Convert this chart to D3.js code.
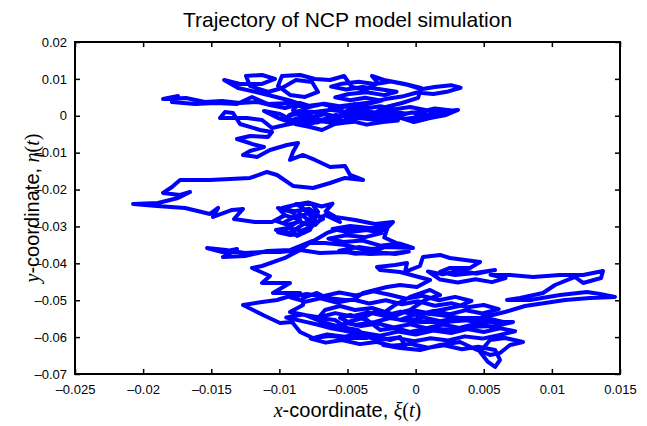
<!DOCTYPE html>
<html><head><meta charset="utf-8">
<script src="https://cdn.jsdelivr.net/npm/d3@7"></script>
<style>body{margin:0;background:#fff}</style>
</head><body>
<svg id="chart" width="647" height="426"></svg>
<script>
// Trajectory samples (xi = x-coordinate, eta = y-coordinate), in units of 1e-3,
// listed in path order as consecutive pieces.
const unit = 1e-3;

// piece 1: start at origin, upper band, left arm
const xi1 = [0.03,0.91,2.16,3.11,2.23,1.06,-0.12,-1.29,-2.39,-3.20,-2.17,-1.00,0.18,0.40,-0.78,-2.32,-3.20,-2.76,-3.71,-4.67,
-5.25,-6.28,-7.38,-8.48,-9.81,-10.10,-9.22,-8.12,-7.16,-7.60,-8.78,-9.81,-10.83,-12.15,-12.45,-11.27,-10.32,-11.27,-12.89,-14.06,
-13.03,-11.71,-10.54,-9.37,-8.48,-9.59,-10.69,-11.57,-12.89,-14.21,-15.46,-16.85,-18.54,-17.44,-17.88,-16.19,-14.65,-13.11,-12.01,-10.83,
-9.22,-8.12,-6.87,-5.55,-4.45,-3.49,-4.67,-5.84,-6.87,-8.04,-9.07,-9.95,-11.13,-10.10,-8.85,-7.75,-6.87,-5.92,-4.81,-5.40,-6.28];
const eta1 = [-0.05,1.57,1.30,1.57,0.22,-0.60,-1.68,-0.33,-1.41,0.49,2.39,3.47,4.83,7.54,8.62,9.70,10.79,8.89,6.99,7.81,
10.79,9.70,9.98,11.06,10.79,8.08,5.64,5.10,6.45,9.16,9.70,7.54,6.45,8.08,10.79,11.06,9.98,8.62,8.62,9.70,
7.54,6.45,5.37,4.28,3.20,2.11,2.93,3.74,3.47,4.01,3.74,4.83,4.55,5.37,3.74,3.20,3.47,3.20,5.10,3.20,
3.47,2.11,3.20,2.11,3.20,1.57,-0.60,0.22,-1.14,-0.05,-1.14,0.49,1.30,-0.60,-2.22,-3.04,-3.85,-2.22,-1.68,1.03,2.11];

// piece 2: dense tangle near the origin
const xi2 = [-5.0,-3.8,-2.6,-1.5,-0.4,0.8,1.9,0.9,-0.3,-1.2,-2.4,-3.5,-4.6,-5.7,-6.6,-7.5,-8.4,-9.3,-8.6,-7.4,
-6.3,-5.2,-4.1,-3.0,-1.9,-0.8,0.4,1.4,2.5,1.6,0.5,-0.7,-1.9,-3.0,-4.2,-5.3,-6.4,-7.2,-8.3,-9.2,
-8.0,-6.9,-5.8,-4.5,-3.6,-2.4,-1.3,-2.0,-3.2,-4.3,-5.5,-4.8,-3.6,-2.5,-3.7,-4.8,-5.9,-4.9,-3.6,-2.3,
-1.4,-2.6,-3.9,-5.1,-6.2,-5.4,-4.2,-3.0,-1.8,-0.6,0.4,1.4,2.6,3.3,2.4,1.3,0.1,-1.0,-2.1,-3.2,
-4.4,-5.6,-6.7,-7.8,-8.5,-9.0,-8.3];
const eta2 = [2.8,1.9,2.6,1.8,2.4,1.5,0.9,0.3,0.9,0.1,0.6,-0.3,0.4,-0.4,0.5,-0.2,0.7,0.1,1.3,1.0,
1.6,1.1,1.5,0.9,1.3,0.6,1.1,2.0,1.5,0.6,-0.2,-0.8,-0.3,-1.1,-0.6,-1.4,-0.8,-1.8,-1.0,-1.6,
-2.3,-1.5,-2.1,-1.6,-2.4,-1.7,-1.3,-0.5,0.2,0.9,0.2,2.0,3.1,4.1,4.9,4.2,5.0,5.9,6.4,5.6,
6.5,7.2,7.8,7.1,7.9,8.7,9.2,8.6,9.3,8.4,7.2,7.8,8.3,7.6,6.6,5.9,6.3,5.2,4.6,3.7,
3.1,2.6,3.3,2.7,3.5,1.5,0.0];

// piece 3: descent on the left, far-left spike, cluster near -0.03
const xi3 = [-8.48,-9.59,-10.54,-11.27,-12.37,-14.36,-13.99,-13.40,-12.89,-11.42,-10.54,-10.83,-12.15,-13.11,-12.01,-11.13,-12.15,-12.67,-11.64,
-10.69,-9.44,-8.63,-9.00,-9.22,-8.26,-7.38,-6.28,-5.18,-4.81,-3.86,-5.18,-6.28,-7.53,-9.00,-10.17,-10.91,-12.15,-13.62,-15.09,
-17.29,-17.88,-18.54,-17.29,-16.56,-17.44,-18.91,-20.74,-18.98,-16.92,-15.09,-14.50,-14.87,-13.47,-12.67,-13.33,-11.79,-10.54,-9.59,-10.10,
-9.07,-8.48,-9.37,-10.25,-9.22,-8.34,-7.60,-8.26,-8.78,-7.60,-7.16,-7.75,-8.70,-9.59,-8.48,-7.38,-6.65,-5.55,-6.28];
const eta3 = [-1.68,-2.49,-3.31,-1.14,-0.60,-0.60,1.03,0.76,-2.22,-3.85,-4.39,-5.75,-5.48,-6.29,-7.64,-8.46,-9.54,-10.63,-11.17,
-9.27,-7.92,-7.37,-9.81,-11.98,-10.63,-11.98,-13.88,-13.61,-16.05,-17.40,-16.86,-18.22,-19.57,-19.03,-16.05,-15.23,-16.86,-17.13,-17.40,
-17.40,-19.30,-20.93,-21.47,-20.66,-22.28,-23.64,-23.91,-24.45,-24.99,-26.62,-24.99,-27.43,-25.54,-25.26,-27.98,-28.79,-28.79,-26.89,-24.99,
-26.08,-28.25,-30.42,-30.96,-31.77,-29.60,-27.70,-24.99,-23.91,-23.91,-26.08,-30.96,-32.58,-28.79,-26.62,-29.60,-26.89,-28.79,-26.62];

// piece 4: more of the -0.03 cluster
const xi4 = [-7.0,-7.9,-8.7,-9.6,-10.3,-9.4,-8.5,-7.6,-8.4,-9.3,-10.1,-9.2,-8.3,-7.4,-6.8,-7.8,-8.9,-9.8,-8.9,-7.9,-6.9,-6.1,-6.6,-5.9];
const eta4 = [-27.5,-26.3,-27.9,-27.0,-28.4,-29.6,-28.7,-30.0,-31.2,-30.4,-31.6,-32.3,-31.9,-29.1,-28.0,-25.2,-25.9,-25.0,-24.2,-23.5,-24.6,-23.8,-25.9,-27.4];

// piece 5: right spike near -0.03 and the -0.035 band
const xi5 = [-4.45,-2.98,-1.66,-2.25,-3.93,-5.40,-6.50,-7.75,-6.65,-5.18,-3.71,-2.25,-0.19];
const eta5 = [-28.25,-29.33,-28.79,-30.96,-30.96,-30.42,-31.77,-34.48,-34.48,-35.02,-36.38,-35.57,-35.84];

// piece 6: tangle near -0.035
const xi6 = [-1.2,-2.6,-3.9,-5.3,-6.4,-5.1,-3.7,-2.5,-3.6,-4.9,-6.1,-4.8,-3.4,-2.0,-2.3,-1.4,-2.8,-4.2,-5.6,-4.4,-2.9,-1.5,-0.5];
const eta6 = [-34.6,-35.2,-33.8,-34.2,-33.3,-32.4,-32.9,-31.8,-31.0,-31.6,-30.7,-29.9,-30.4,-29.7,-33.0,-34.5,-36.3,-35.6,-36.6,-37.4,-37.0,-37.5,-36.8];

// piece 7: band near -0.037, zigzag down to -0.06, back up to -0.04
const xi7 = [-1.51,-3.35,-5.18,-7.02,-8.48,-9.95,-11.27,-12.52,
-13.92,-15.31,-14.21,-13.11,-14.14,-12.52,-10.91,-9.22,-7.60,-8.48,-9.59,-11.27,-12.01,-10.69,-11.27,-9.22,-10.47,-8.48,-10.17,-11.27,
-12.67,-11.93,-11.05,-9.95,-9.07,-8.48,-7.53,-6.28,-4.81,-3.57,-4.23,-5.55,-6.87,-8.12,-9.22,-8.26,-8.26,-7.24,-6.50,-5.18,
-4.59,-3.86,-2.10,-1.14,0.10,1.06,-0.04,-1.14,-2.61,-2.83,-1.51,-0.63,-0.78,0.32,0.54,1.79,2.52,3.63,4.73,3.99,
2.52,1.79,2.89,4.36,5.83];
const eta7 = [-37.19,-37.46,-36.92,-37.19,-36.38,-36.92,-36.92,-37.19,
-36.38,-35.84,-36.92,-36.11,-38.28,-38.01,-36.65,-36.38,-33.94,-36.38,-38.55,-40.72,-41.26,-43.43,-45.32,-45.32,-48.04,-48.04,-49.93,-50.48,
-51.29,-52.64,-54.27,-56.17,-55.90,-58.61,-60.23,-59.69,-60.23,-60.23,-58.06,-57.25,-55.90,-54.00,-53.19,-51.29,-49.39,-48.04,-49.39,-49.93,
-49.93,-48.04,-46.41,-45.87,-46.41,-44.51,-43.43,-42.34,-41.80,-40.99,-40.45,-39.90,-42.34,-40.72,-38.28,-37.73,-38.55,-39.09,-39.63,-41.26,
-41.26,-42.34,-43.16,-42.61,-41.80];

// piece 8: small tangle near (0.003, -0.043)
const xi8 = [4.5,3.2,2.0,0.9,1.8,3.1,4.4,5.6,6.6,5.5];
const eta8 = [-42.8,-41.9,-43.0,-42.2,-44.4,-45.2,-44.3,-45.1,-44.0,-43.1];

// piece 9: excursions to the right edge, lower cluster, bottom tail
const xi9 = [6.93,8.62,10.60,12.29,13.75,13.61,12.29,11.70,10.23,9.35,7.66,6.71,8.40,10.60,12.58,
13.53,14.63,12.80,10.97,9.50,8.03,6.56,4.73,3.26,1.79,0.32,-1.14,0.32,2.16,3.99,5.46,7.15,5.83,3.77,2.52,
1.06,-0.41,-1.51,-2.61,-3.57,-4.81,-5.55,-4.45,-2.98,-1.88,-0.41,0.69,1.79,1.06,-0.41,-1.51,-2.25,-3.20,-4.45,-5.55,
-6.65,-7.16,-5.92,-4.81,-3.35,-1.88,-1.14,-0.78,-2.39,-1.14,0.32,1.79,3.26,4.51,5.46,6.19,6.93,7.88,6.56,5.46,
4.73,5.31,5.83,6.19,5.83];
const eta9 = [-43.16,-43.70,-43.16,-43.16,-42.07,-43.97,-45.32,-43.70,-45.87,-48.04,-49.39,-49.93,-49.93,-48.58,-47.76,
-48.31,-49.12,-49.39,-49.93,-50.75,-51.56,-53.19,-54.81,-54.81,-54.00,-53.46,-55.35,-55.90,-55.90,-55.35,-55.90,-55.90,-56.98,-57.25,-58.06,
-57.52,-58.61,-57.52,-58.06,-55.35,-54.00,-54.81,-56.71,-55.90,-54.81,-52.64,-49.93,-48.58,-47.22,-49.12,-51.29,-53.19,-52.10,-52.64,-51.56,
-52.64,-54.81,-55.35,-58.06,-59.42,-60.78,-59.96,-62.40,-62.13,-62.94,-63.49,-62.13,-61.32,-63.49,-64.84,-64.30,-62.13,-61.32,-60.23,-60.78,
-64.03,-66.74,-68.10,-66.20,-63.49];

// piece 10: final wandering in the lower cluster
const xi10 = [4.6,3.4,2.1,0.9,-0.4,-1.7,-2.9,-4.1,-5.4,-6.6,-7.7,-6.5,-5.2,-3.9,-2.6,-1.3,0.0,1.3,2.6,3.8,
5.0,6.2,7.3,6.1,4.9,3.6,2.4,1.1,-0.1,-1.4,-2.7,-3.8,-5.0,-6.2,-7.3,-8.4,-9.5,-8.3,-7.1,-5.9,
-4.7,-3.5,-2.3,-1.1,0.1,1.3,2.5,3.7,4.9,6.1,5.0,3.8,2.6,1.4,0.2,-1.0,-2.2,-3.4,-4.6,-5.8,
-7.0,-8.1,-9.2,-8.0,-6.8,-5.6,-4.4,-3.1,-1.9,-0.7,0.5,1.7,2.9,4.1,3.2,2.0,0.8,-0.4,-1.6,-2.8,
-4.0,-5.2,-4.0,-2.8,-1.6,-0.4,0.8,2.0,3.2,4.4,5.6,6.6,5.4,4.2,3.0,1.8,0.6,-0.6,-1.8];
const eta10 = [-62.6,-63.3,-62.2,-62.9,-61.8,-62.4,-61.3,-61.9,-60.8,-61.5,-60.4,-59.3,-59.9,-58.8,-59.6,-58.5,-59.3,-58.2,-58.9,-57.8,
-58.6,-57.6,-58.4,-59.5,-60.4,-59.8,-60.9,-60.3,-61.1,-60.2,-60.8,-59.7,-58.4,-57.6,-56.5,-55.6,-54.7,-53.9,-54.6,-53.5,
-54.4,-53.3,-54.2,-53.1,-54.0,-52.9,-53.8,-52.7,-53.6,-52.4,-51.3,-51.9,-50.8,-51.5,-50.3,-51.1,-50.0,-50.9,-49.8,-50.6,
-49.5,-50.4,-49.2,-48.3,-48.9,-47.9,-48.7,-47.6,-48.5,-49.6,-48.8,-50.0,-49.1,-50.2,-51.6,-52.5,-53.4,-52.6,-53.8,-52.8,
-55.0,-56.1,-57.0,-56.3,-57.4,-56.5,-57.6,-56.6,-57.5,-56.4,-57.2,-56.0,-55.0,-55.8,-54.8,-55.7,-54.7,-55.6,-54.9];

const xiPieces = [xi1, xi2, xi3, xi4, xi5, xi6, xi7, xi8, xi9, xi10];
const etaPieces = [eta1, eta2, eta3, eta4, eta5, eta6, eta7, eta8, eta9, eta10];

const xTicks = [-0.025,-0.02,-0.015,-0.01,-0.005,0,0.005,0.01,0.015];
const xTickLabels = ["\u20130.025","\u20130.02","\u20130.015","\u20130.01","\u20130.005","0","0.005","0.01","0.015"];
const yTicks = [0.02,0.01,0,-0.01,-0.02,-0.03,-0.04,-0.05,-0.06,-0.07];
const yTickLabels = ["0.02","0.01","0","\u20130.01","\u20130.02","\u20130.03","\u20130.04","\u20130.05","\u20130.06","\u20130.07"];
const titleText = "Trajectory of NCP model simulation";

const L = 75, R = 620, T = 42, B = 374;
const sans = "'Liberation Sans', Arial, Helvetica, sans-serif";
const serif = "'Liberation Serif', 'Times New Roman', serif";

const svg = d3.select("#chart");
const x = d3.scaleLinear().domain([-0.025, 0.015]).range([L, R]);
const y = d3.scaleLinear().domain([-0.07, 0.02]).range([B, T]);

const pts = [];
xiPieces.forEach((xs, k) => {
  const ys = etaPieces[k];
  const n = Math.min(xs.length, ys.length);
  for (let i = 0; i < n; i++) pts.push([xs[i] * unit, ys[i] * unit]);
});
const line = d3.line().x(d => x(d[0])).y(d => y(d[1]));

svg.append("path").datum(pts)
  .attr("d", line)
  .attr("fill", "none")
  .attr("stroke", "#0000ff")
  .attr("stroke-width", 4)
  .attr("stroke-linejoin", "round")
  .attr("stroke-linecap", "round");

// axes (MATLAB style: inward ticks on all sides)
const tickLen = 5;
function styleAxis(g) {
  g.select(".domain").remove();
  g.selectAll(".tick line").attr("stroke", "#000").attr("stroke-width", 1.5);
  g.selectAll(".tick text").attr("font-family", sans).attr("font-size", 13).attr("fill", "#000");
}
const fmtX = (d) => xTickLabels[xTicks.indexOf(d)];
const fmtY = (d) => yTickLabels[yTicks.indexOf(d)];

svg.append("g").attr("transform", `translate(0,${B})`)
  .call(d3.axisBottom(x).tickValues(xTicks).tickFormat(fmtX).tickSizeInner(-tickLen).tickSizeOuter(0).tickPadding(11))
  .call(styleAxis);
svg.append("g").attr("transform", `translate(0,${T})`)
  .call(d3.axisTop(x).tickValues(xTicks).tickFormat("").tickSizeInner(-tickLen).tickSizeOuter(0))
  .call(styleAxis);
svg.append("g").attr("transform", `translate(${L},0)`)
  .call(d3.axisLeft(y).tickValues(yTicks).tickFormat(fmtY).tickSizeInner(-tickLen).tickSizeOuter(0).tickPadding(8))
  .call(styleAxis);
svg.append("g").attr("transform", `translate(${R},0)`)
  .call(d3.axisRight(y).tickValues(yTicks).tickFormat("").tickSizeInner(-tickLen).tickSizeOuter(0))
  .call(styleAxis);

svg.append("rect").attr("x", L).attr("y", T).attr("width", R - L).attr("height", B - T)
  .attr("fill", "none").attr("stroke", "#000").attr("stroke-width", 2);

// title
svg.append("text").attr("x", (L + R) / 2).attr("y", 27)
  .attr("text-anchor", "middle").attr("font-family", sans).attr("font-size", 21)
  .attr("fill", "#000").text(titleText);

// x label
const xl = svg.append("text").attr("x", (L + R) / 2).attr("y", 417)
  .attr("text-anchor", "middle").attr("font-size", 20).attr("fill", "#000");
xl.append("tspan").attr("font-family", serif).attr("font-style", "italic").text("x");
xl.append("tspan").attr("font-family", sans).text("-coordinate, ");
xl.append("tspan").attr("font-family", serif).attr("font-style", "italic").text("\u03BE");
xl.append("tspan").attr("font-family", serif).text("(");
xl.append("tspan").attr("font-family", serif).attr("font-style", "italic").text("t");
xl.append("tspan").attr("font-family", serif).text(")");

// y label
const yl = svg.append("text").attr("transform", `translate(39,${(T + B) / 2}) rotate(-90)`)
  .attr("text-anchor", "middle").attr("font-size", 20).attr("fill", "#000");
yl.append("tspan").attr("font-family", serif).attr("font-style", "italic").text("y");
yl.append("tspan").attr("font-family", sans).text("-coordinate, ");
yl.append("tspan").attr("font-family", serif).attr("font-style", "italic").text("\u03B7");
yl.append("tspan").attr("font-family", serif).text("(");
yl.append("tspan").attr("font-family", serif).attr("font-style", "italic").text("t");
yl.append("tspan").attr("font-family", serif).text(")");
</script>
</body></html>
